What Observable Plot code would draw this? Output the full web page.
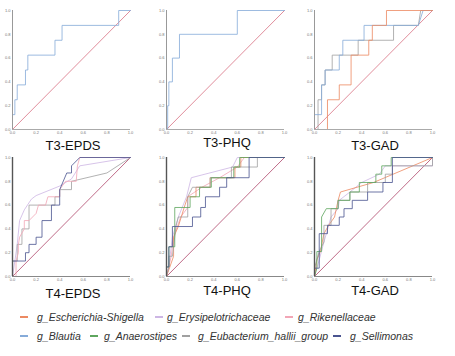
<!DOCTYPE html>
<html><head><meta charset="utf-8">
<script src="https://cdn.jsdelivr.net/npm/d3@7"></script>
<script src="https://cdn.jsdelivr.net/npm/@observablehq/plot@0.6"></script>
<style>
body{margin:0;background:#fff;font-family:"Liberation Sans",Arial,sans-serif;}
#root{position:relative;width:455px;height:356px;overflow:hidden;}
.panel{position:absolute;}
.ttl{position:absolute;width:140px;text-align:center;font-size:13px;line-height:13px;color:#111;}
.sw{position:absolute;width:8px;height:2px;}
.tx{position:absolute;font-size:10.5px;line-height:12px;font-style:italic;color:#333;white-space:nowrap;}
</style></head>
<body><div id="root"></div>
<script>
// ---- categories ----
const seriesNames = ["g_Escherichia-Shigella","g_Erysipelotrichaceae","g_Rikenellaceae","g_Blautia","g_Anaerostipes","g_Eubacterium_hallii_group","g_Sellimonas"];
const seriesColors = ["#ec8a62","#cdb6e4","#f2a6b6","#86abd9","#5ea65e","#a0a0a0","#4a5490"];
const panelTitles = ["T3-EPDS","T3-PHQ","T3-GAD","T4-EPDS","T4-PHQ","T4-GAD"];
const tickValues = [0,0.2,0.4,0.6,0.8,1.0];

// ---- ROC points [fpr, tpr] ----
const t3epds_blautia = [[0,0],[0,0.125],[0.02,0.125],[0.02,0.25],[0.04,0.25],[0.04,0.375],[0.11,0.375],[0.11,0.5],[0.13,0.5],[0.13,0.625],[0.36,0.625],[0.36,0.75],[0.42,0.75],[0.42,0.875],[0.9,0.875],[0.9,1],[1,1]];

const t3phq_blautia = [[0,0],[0.01,0],[0.01,0.2],[0.02,0.2],[0.02,0.4],[0.05,0.4],[0.05,0.6],[0.11,0.6],[0.11,0.8],[0.6,0.8],[0.6,1],[1,1]];

const t3gad_blautia = [[0,0],[0,0.125],[0.06,0.125],[0.06,0.375],[0.09,0.375],[0.09,0.5],[0.21,0.5],[0.21,0.625],[0.24,0.625],[0.24,0.75],[0.42,0.75],[0.42,0.875],[0.88,0.875],[0.92,1],[1,1]];
const t3gad_eubact = [[0,0],[0.03,0],[0.03,0.25],[0.06,0.25],[0.06,0.375],[0.09,0.375],[0.09,0.5],[0.15,0.5],[0.15,0.625],[0.37,0.625],[0.37,0.75],[0.67,0.75],[0.67,0.875],[0.88,0.875],[0.9,1],[1,1]];
const t3gad_escher = [[0,0],[0.11,0],[0.11,0.25],[0.21,0.25],[0.21,0.375],[0.31,0.375],[0.31,0.625],[0.46,0.625],[0.46,0.75],[0.49,0.75],[0.49,0.875],[0.61,0.875],[0.61,1],[1,1]];

const t4epds_sellim = [[0,0],[0,0.13],[0.11,0.13],[0.11,0.2],[0.14,0.2],[0.14,0.27],[0.2,0.27],[0.2,0.33],[0.25,0.33],[0.25,0.47],[0.33,0.47],[0.33,0.6],[0.4,0.6],[0.4,0.73],[0.46,0.87],[0.5,0.87],[0.5,0.93],[0.57,1],[1,1]];
const t4epds_eubact = [[0,0],[0,0.13],[0.04,0.13],[0.04,0.27],[0.08,0.27],[0.08,0.4],[0.14,0.4],[0.14,0.6],[0.36,0.6],[0.36,0.67],[0.4,0.67],[0.4,0.73],[0.5,0.73],[0.5,0.8],[0.8,0.87],[1,1]];
const t4epds_erysip = [[0,0],[0.02,0.13],[0.04,0.27],[0.06,0.47],[0.1,0.56],[0.16,0.65],[0.2,0.68],[0.3,0.72],[0.4,0.76],[0.5,0.82],[0.57,0.93],[1,1]];
const t4epds_riken = [[0,0],[0.03,0],[0.03,0.13],[0.05,0.2],[0.05,0.27],[0.06,0.33],[0.1,0.4],[0.1,0.47],[0.14,0.47],[0.2,0.53],[0.22,0.6],[0.28,0.6],[0.3,0.67],[0.4,0.67],[0.4,0.73],[0.45,0.8],[0.54,0.8],[0.55,0.93],[0.57,1],[1,1]];

const t4phq_erysip = [[0,0],[0.02,0.08],[0.03,0.17],[0.05,0.33],[0.1,0.5],[0.17,0.67],[0.21,0.83],[0.56,0.92],[0.6,1],[1,1]];
const t4phq_anaero = [[0,0],[0,0.08],[0.02,0.08],[0.02,0.25],[0.07,0.25],[0.07,0.58],[0.2,0.58],[0.2,0.67],[0.28,0.67],[0.28,0.75],[0.38,0.75],[0.38,0.83],[0.57,0.83],[0.57,0.92],[0.62,0.92],[0.62,1],[1,1]];
const t4phq_sellim = [[0,0],[0,0.08],[0.02,0.08],[0.02,0.25],[0.05,0.25],[0.05,0.42],[0.22,0.42],[0.22,0.5],[0.29,0.5],[0.29,0.58],[0.33,0.58],[0.33,0.67],[0.45,0.67],[0.45,0.75],[0.51,0.75],[0.51,0.83],[0.7,0.83],[0.7,1],[1,1]];
const t4phq_eubact = [[0,0],[0.02,0.08],[0.02,0.17],[0.05,0.17],[0.08,0.42],[0.1,0.5],[0.18,0.5],[0.18,0.67],[0.22,0.75],[0.37,0.75],[0.37,0.83],[0.55,0.83],[0.55,0.92],[0.77,0.92],[0.77,1],[1,1]];
const t4phq_escher = [[0,0],[0.06,0.17],[0.06,0.33],[0.1,0.42],[0.15,0.58],[0.18,0.67],[0.25,0.67],[0.25,0.75],[0.37,0.75],[0.37,0.83],[0.58,0.83],[0.58,0.92],[0.63,0.92],[0.63,1],[1,1]];
const t4phq_riken = [[0,0],[0.04,0.17],[0.06,0.33],[0.12,0.5],[0.18,0.58],[0.18,0.67],[0.3,0.75],[0.45,0.83],[0.6,0.92],[0.66,1],[1,1]];

const t4gad_sellim = [[0,0],[0,0.07],[0.04,0.07],[0.04,0.36],[0.11,0.36],[0.11,0.43],[0.21,0.43],[0.21,0.5],[0.25,0.5],[0.25,0.57],[0.32,0.57],[0.32,0.64],[0.45,0.64],[0.45,0.71],[0.58,0.71],[0.58,0.79],[0.66,0.79],[0.66,1],[1,1]];
const t4gad_anaero = [[0,0],[0.02,0.07],[0.02,0.21],[0.06,0.21],[0.06,0.5],[0.1,0.57],[0.2,0.57],[0.2,0.64],[0.3,0.64],[0.3,0.71],[0.38,0.71],[0.38,0.79],[0.52,0.79],[0.52,0.86],[0.57,0.86],[0.57,0.93],[0.65,0.93],[0.65,1],[1,1]];
const t4gad_escher = [[0,0],[0.02,0.14],[0.05,0.21],[0.08,0.36],[0.12,0.43],[0.17,0.5],[0.2,0.64],[0.22,0.71],[0.5,0.79],[1,1]];
const t4gad_erysip = [[0,0],[0.04,0.14],[0.08,0.29],[0.1,0.36],[0.14,0.5],[0.2,0.57],[0.21,0.64],[0.3,0.71],[0.4,0.79],[0.55,0.86],[0.6,0.93],[1,0.93],[1,1]];
const t4gad_eubact = [[0,0],[0,0.07],[0.04,0.21],[0.08,0.29],[0.08,0.43],[0.14,0.43],[0.14,0.57],[0.2,0.57],[0.2,0.64],[0.3,0.64],[0.3,0.71],[0.45,0.71],[0.45,0.79],[0.6,0.79],[0.6,0.86],[0.66,0.86],[0.66,0.93],[1,0.93],[1,1]];

const panelSeries = [
  [["g_Blautia", t3epds_blautia]],
  [["g_Blautia", t3phq_blautia]],
  [["g_Eubacterium_hallii_group", t3gad_eubact],["g_Blautia", t3gad_blautia],["g_Escherichia-Shigella", t3gad_escher]],
  [["g_Erysipelotrichaceae", t4epds_erysip],["g_Eubacterium_hallii_group", t4epds_eubact],["g_Rikenellaceae", t4epds_riken],["g_Sellimonas", t4epds_sellim]],
  [["g_Erysipelotrichaceae", t4phq_erysip],["g_Rikenellaceae", t4phq_riken],["g_Escherichia-Shigella", t4phq_escher],["g_Eubacterium_hallii_group", t4phq_eubact],["g_Anaerostipes", t4phq_anaero],["g_Sellimonas", t4phq_sellim]],
  [["g_Erysipelotrichaceae", t4gad_erysip],["g_Escherichia-Shigella", t4gad_escher],["g_Eubacterium_hallii_group", t4gad_eubact],["g_Anaerostipes", t4gad_anaero],["g_Sellimonas", t4gad_sellim]]
];
const diagonal = [[0,0],[1,1]];

const root = document.getElementById("root");
const colLeft = [0,154,302];
const rowTop = [0,147];
const titleY = [[139,136,139],[287,284,284]];

panelSeries.forEach((ser, i) => {
  const c = i % 3, r = Math.floor(i / 3);
  const rows = [];
  ser.forEach(([name, pts]) => pts.forEach(([x,y], k) => rows.push({name, x, y, k})));
  const dark = r === 1;
  const svg = Plot.plot({
    width: 140, height: 135,
    marginLeft: 12, marginRight: 10, marginTop: 10, marginBottom: 6,
    style: {fontSize: "4px", fontFamily: "Liberation Sans, Arial, sans-serif", color: "#777", background: "transparent"},
    x: {domain: [0,1], ticks: tickValues, tickFormat: d3.format(".1f"), tickSize: 0, tickPadding: 2, label: null},
    y: {domain: [0,1], ticks: tickValues, tickFormat: d3.format(".1f"), tickSize: 0, tickPadding: 2, label: null},
    color: {domain: seriesNames, range: seriesColors},
    marks: [
      Plot.line(diagonal, {x: d => d[0], y: d => d[1], stroke: dark ? "#b85a7a" : "#dc8090", strokeWidth: 0.9}),
      Plot.line(rows, {x: "x", y: "y", z: "name", stroke: "name", strokeWidth: 0.9, strokeOpacity: 0.9, curve: "linear"}),
      Plot.ruleY([0], {stroke: dark ? "#888" : "#aaa", strokeWidth: 1}),
      Plot.ruleX([0], {stroke: dark ? "#555" : "#999", strokeWidth: dark ? 1.4 : 1})
    ]
  });
  svg.classList.add("panel");
  svg.style.left = colLeft[c] + "px";
  svg.style.top = rowTop[r] + "px";
  root.appendChild(svg);
  const t = document.createElement("div");
  t.className = "ttl";
  t.textContent = panelTitles[i];
  t.style.left = (colLeft[c] + 3) + "px";
  t.style.top = titleY[r][c] + "px";
  root.appendChild(t);
});

// legend (two rows, as in the reference)
const legendRows = [[0,1,2],[3,4,5,6]];
const legendSwatchX = [[20,155,285],[20,90,182,333]];
const legendTextX = [[37,167,298],[37,104,198,350]];
const legendY = [317, 336];
legendRows.forEach((idxs, r) => {
  idxs.forEach((j, n) => {
    const sw = document.createElement("div");
    sw.className = "sw";
    sw.style.background = seriesColors[j];
    sw.style.left = legendSwatchX[r][n] + "px";
    sw.style.top = (legendY[r] - 1) + "px";
    root.appendChild(sw);
    const tx = document.createElement("div");
    tx.className = "tx";
    tx.textContent = seriesNames[j];
    tx.style.left = legendTextX[r][n] + "px";
    tx.style.top = (legendY[r] - 6) + "px";
    root.appendChild(tx);
  });
});
</script></body></html>
